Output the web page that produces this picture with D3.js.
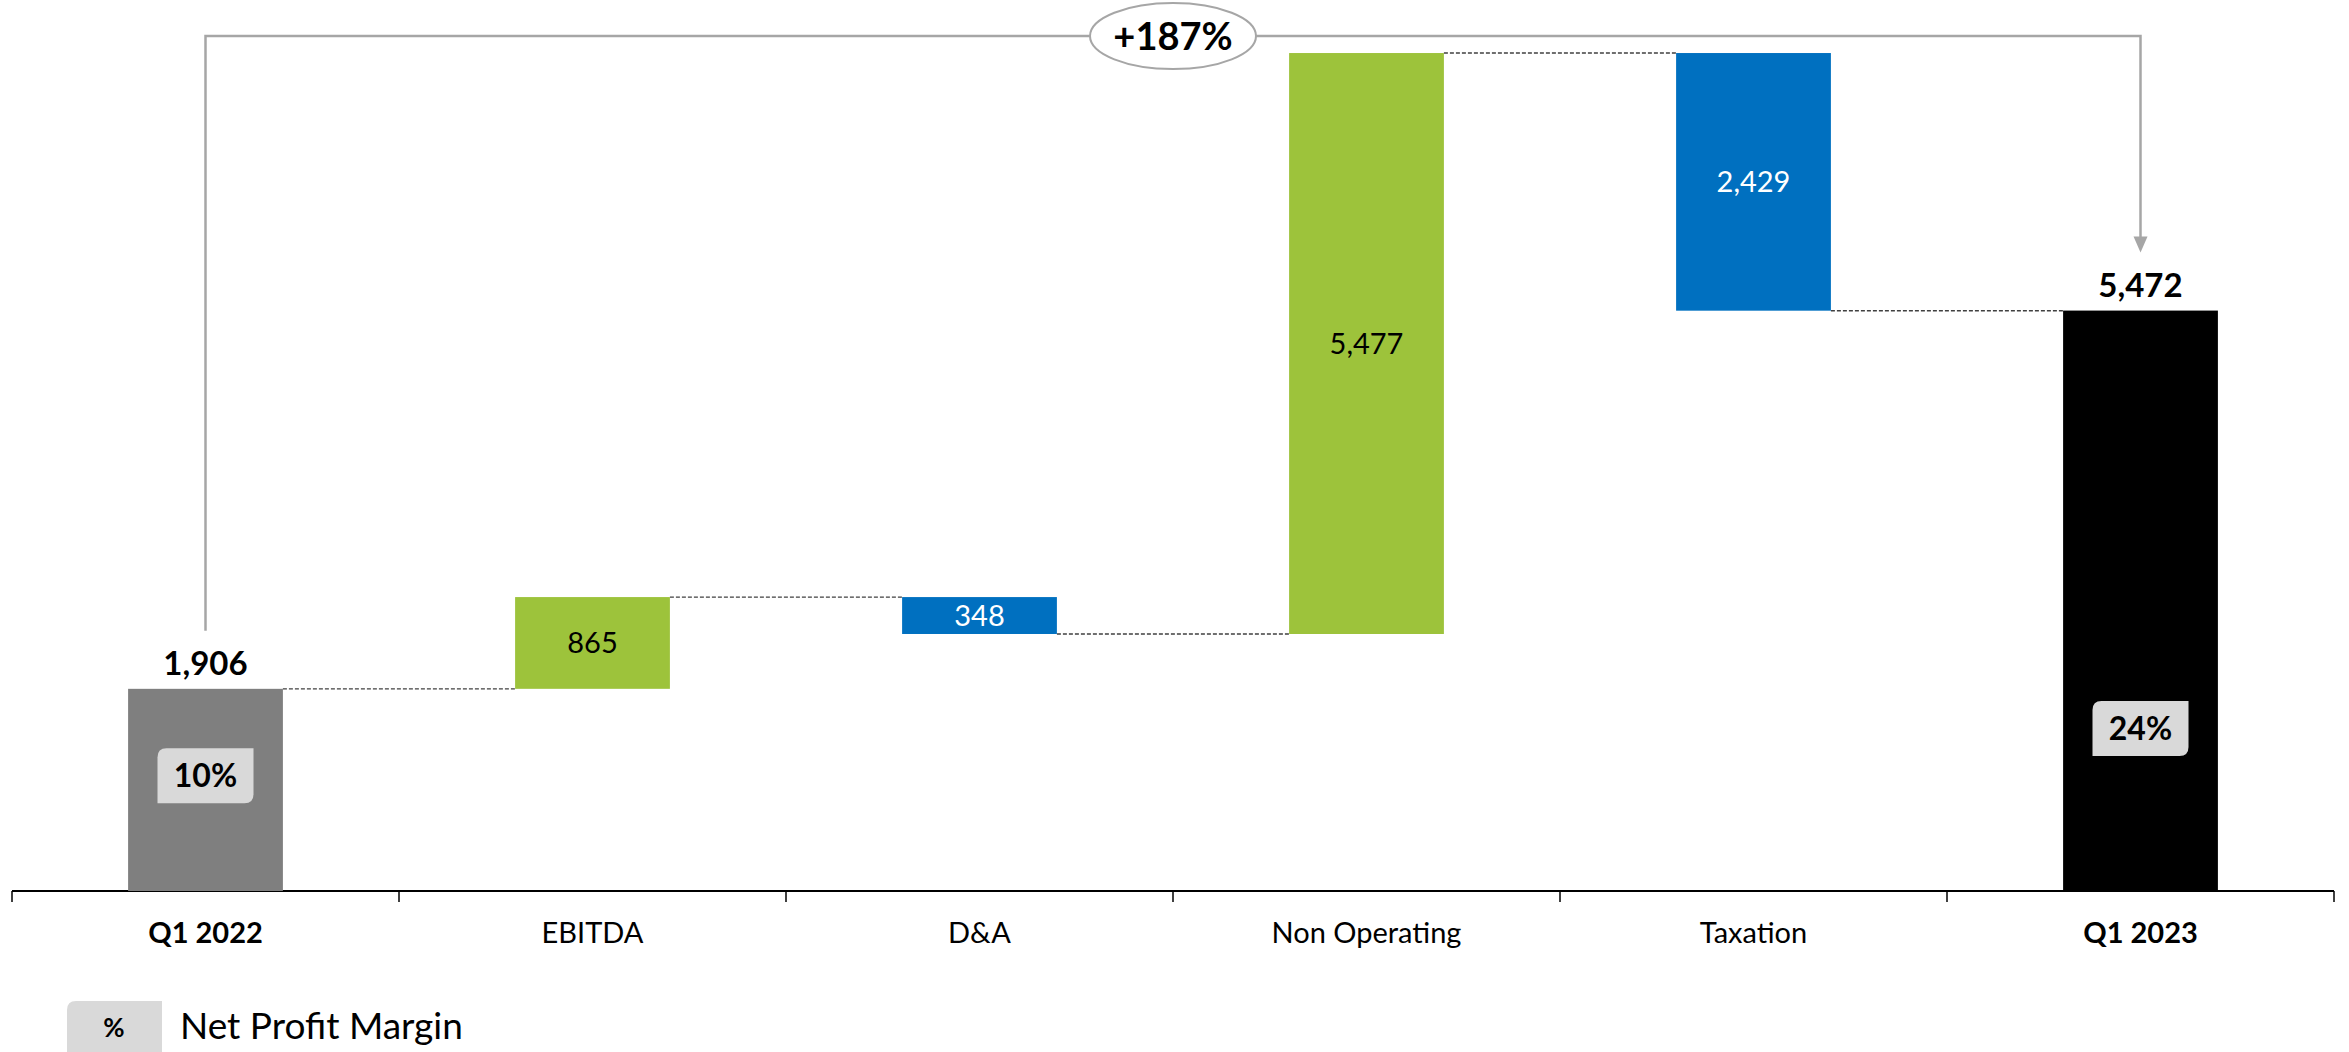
<!DOCTYPE html>
<html>
<head>
<meta charset="utf-8">
<script src="https://cdn.jsdelivr.net/npm/d3@7"></script>
<style>
  html, body { margin: 0; padding: 0; background: #ffffff; }
  svg { display: block; font-family: Lato, "Open Sans", "Noto Sans", sans-serif; }
</style>
</head>
<body>
<svg id="chart" width="2349" height="1052"></svg>
<script>
// Net profit bridge, Q1 2022 -> Q1 2023
const categories = ["Q1 2022", "EBITDA", "D&A", "Non Operating", "Taxation", "Q1 2023"];
const kinds      = ["total", "up", "down", "up", "down", "total"];
const values     = [1906, 865, 348, 5477, 2429, 5472];
const valueLabels = ["1,906", "865", "348", "5,477", "2,429", "5,472"];
const marginLabels = { "Q1 2022": "10%", "Q1 2023": "24%" };
const changeLabel = "+187%";
const legendLabel = "Net Profit Margin";

const W = 2349, H = 1052;
const svg = d3.select("#chart");

const colors = { total0: "#7f7f7f", total1: "#000000", up: "#9dc33b", down: "#0070c0" };
const lineGray = "#a6a6a6";

// running totals -> bar extents
let running = 0;
const bars = categories.map((c, i) => {
  const v = values[i], k = kinds[i];
  let y0, y1;
  if (k === "total") { y0 = 0; y1 = v; running = v; }
  else if (k === "up") { y0 = running; y1 = running + v; running += v; }
  else { y0 = running - v; y1 = running; running -= v; }
  return { cat: c, kind: k, value: v, label: valueLabels[i], lo: Math.min(y0, y1), hi: Math.max(y0, y1), end: running, i };
});
const peak = d3.max(bars, d => d.hi);

const x = d3.scaleBand().domain(categories).range([12, 2334]).padding(0);
const y = d3.scaleLinear().domain([0, 8400]).range([891, 0]);
const barW = x.bandwidth() * 0.4;
const cx = c => x(c) + x.bandwidth() / 2;

// axis: baseline, boundary ticks and category labels
const axis = svg.append("g").attr("transform", `translate(0,${y(0)})`)
  .call(d3.axisBottom(x).tickSize(0).tickPadding(0));
axis.select(".domain").attr("stroke", "#000").attr("stroke-width", 2).attr("d", `M${x.range()[0]},0H${x.range()[1]}`);
axis.selectAll(".tick text")
  .attr("y", 52).attr("dy", 0)
  .attr("font-family", "Lato, sans-serif")
  .attr("font-size", 29)
  .attr("fill", "#000")
  .attr("font-weight", (d, i) => kinds[i] === "total" ? "bold" : "normal");
const bounds = categories.map(c => x(c)).concat([x.range()[1]]);
axis.selectAll(".bound").data(bounds).join("line")
  .attr("class", "bound")
  .attr("x1", d => d).attr("x2", d => d)
  .attr("y1", 0).attr("y2", 11)
  .attr("stroke", "#000").attr("stroke-width", 1.5);

// connectors between consecutive bars
const conn = svg.append("g");
bars.slice(0, -1).forEach((b, i) => {
  const nb = bars[i + 1];
  conn.append("line")
    .attr("x1", cx(b.cat) + barW / 2).attr("x2", cx(nb.cat) - barW / 2)
    .attr("y1", y(b.end)).attr("y2", y(b.end))
    .attr("stroke", "#404040").attr("stroke-width", 1.4)
    .attr("stroke-dasharray", "4,2");
});

// bars
svg.append("g").selectAll("rect").data(bars).join("rect")
  .attr("x", d => cx(d.cat) - barW / 2)
  .attr("width", barW)
  .attr("y", d => y(d.hi))
  .attr("height", d => y(d.lo) - y(d.hi))
  .attr("fill", d => d.kind === "total" ? (d.i === 0 ? colors.total0 : colors.total1) : colors[d.kind]);

// value labels: totals on top, deltas inside
svg.append("g").selectAll("text").data(bars).join("text")
  .attr("x", d => cx(d.cat))
  .attr("y", d => d.kind === "total" ? y(d.hi) - 14 : (y(d.hi) + y(d.lo)) / 2)
  .attr("dy", d => d.kind === "total" ? 0 : "0.36em")
  .attr("text-anchor", "middle")
  .attr("font-size", d => d.kind === "total" ? 33 : 29)
  .attr("font-weight", d => d.kind === "total" ? "bold" : "normal")
  .attr("fill", d => d.kind === "down" ? "#ffffff" : "#000000")
  .text(d => d.label);

// rounded-diagonal label box path
function diagBox(x0, y0, w, h, r) {
  return `M${x0 + r},${y0}H${x0 + w}V${y0 + h - r}Q${x0 + w},${y0 + h} ${x0 + w - r},${y0 + h}` +
         `H${x0}V${y0 + r}Q${x0},${y0} ${x0 + r},${y0}Z`;
}

// net profit margin badges inside the total bars
const badgeAt = { "Q1 2022": 0.57, "Q1 2023": 0.28 };
bars.filter(d => marginLabels[d.cat]).forEach(d => {
  const bx = cx(d.cat), by = y(d.value * badgeAt[d.cat]);
  const bw = 96, bh = 55;
  svg.append("path").attr("d", diagBox(bx - bw / 2, by - bh / 2, bw, bh, 9)).attr("fill", "#d9d9d9");
  svg.append("text").attr("x", bx).attr("y", by).attr("dy", "0.36em")
    .attr("text-anchor", "middle").attr("font-size", 32).attr("font-weight", "bold")
    .attr("fill", "#000").text(marginLabels[d.cat]);
});

// growth bracket from first to last total
const first = bars[0], last = bars[bars.length - 1];
const bracketY = y(peak) - 17;
const xL = cx(first.cat), xR = cx(last.cat);
const tipY = y(last.value) - 58;
svg.append("path")
  .attr("d", `M${xL},${y(first.value) - 58}V${bracketY}H${xR}V${tipY - 15}`)
  .attr("fill", "none").attr("stroke", lineGray).attr("stroke-width", 2.5);
svg.append("path")
  .attr("d", `M${xR - 7},${tipY - 16}L${xR + 7},${tipY - 16}L${xR},${tipY}Z`)
  .attr("fill", lineGray);
const ex = (x.range()[0] + x.range()[1]) / 2;
svg.append("ellipse").attr("cx", ex).attr("cy", bracketY).attr("rx", 83).attr("ry", 33)
  .attr("fill", "#fff").attr("stroke", lineGray).attr("stroke-width", 2);
svg.append("text").attr("x", ex).attr("y", bracketY).attr("dy", "0.36em")
  .attr("text-anchor", "middle").attr("font-size", 38).attr("font-weight", "bold")
  .attr("fill", "#000").text(changeLabel);

// legend
const lg = svg.append("g");
lg.append("path").attr("d", `M67,${H}V1010Q67,1001 76,1001H162V${H}Z`).attr("fill", "#d9d9d9");
lg.append("text").attr("x", 114).attr("y", 1037).attr("text-anchor", "middle")
  .attr("font-size", 26).attr("font-weight", "bold").attr("fill", "#000").text("%");
lg.append("text").attr("x", 180).attr("y", 1039)
  .attr("font-size", 37).attr("fill", "#000").text(legendLabel);
</script>
</body>
</html>
